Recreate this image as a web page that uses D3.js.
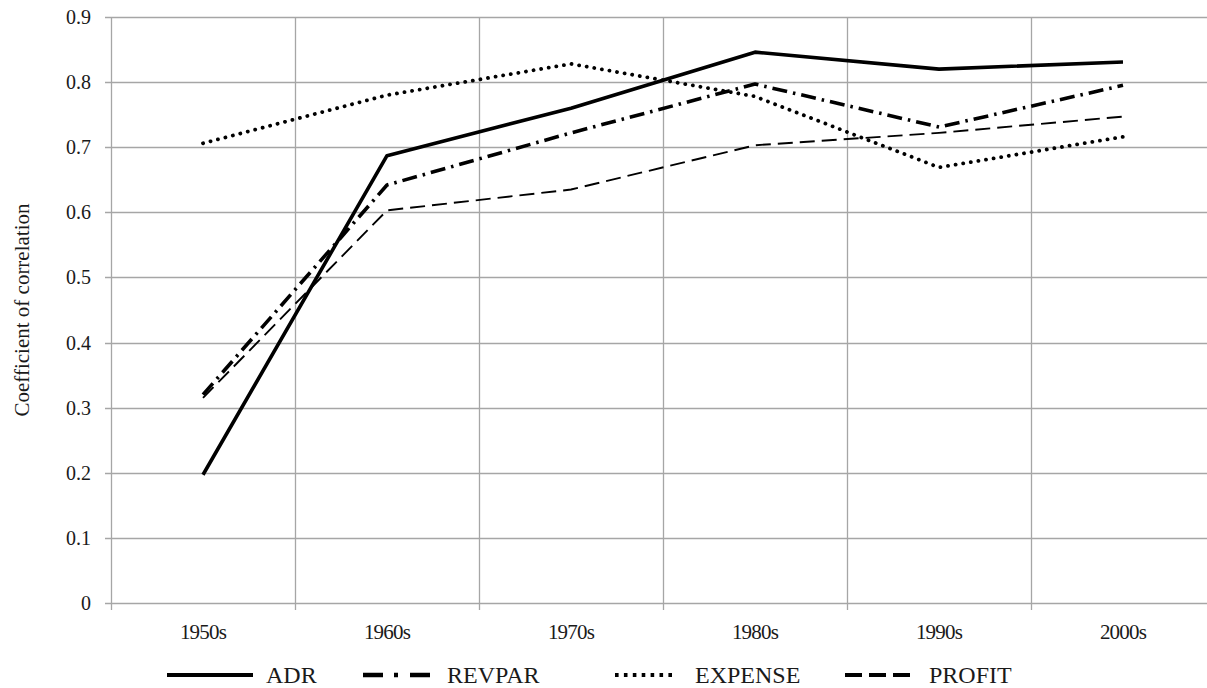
<!DOCTYPE html>
<html>
<head>
<meta charset="utf-8">
<script src="https://cdn.jsdelivr.net/npm/d3@7"></script>
<style>
  body { margin: 0; background: #fff; }
</style>
</head>
<body>
<svg id="chart" width="1207" height="688"></svg>
<script>
// decades on the x axis
var decades = ["1950s", "1960s", "1970s", "1980s", "1990s", "2000s"];

// coefficient values
var adr     = [0.197, 0.687, 0.760, 0.846, 0.820, 0.831];
var revpar  = [0.320, 0.642, 0.722, 0.797, 0.731, 0.795];
var expense = [0.706, 0.780, 0.828, 0.778, 0.669, 0.716];
var profit  = [0.315, 0.603, 0.635, 0.703, 0.722, 0.747];

var yTicks = [0, 0.1, 0.2, 0.3, 0.4, 0.5, 0.6, 0.7, 0.8, 0.9];

var seriesNames = ["ADR", "REVPAR", "EXPENSE", "PROFIT"];

// line styles for each series
var styles = {
  ADR:     {width: 3.6, dash: null,         cap: "butt"},
  REVPAR:  {width: 3.6, dash: "15,6,2.5,6", cap: "butt"},
  EXPENSE: {width: 3.8, dash: "0.1,7.6",    cap: "round"},
  PROFIT:  {width: 1.9, dash: "15,7",       cap: "butt"}
};

var serif = "'Liberation Serif', 'Times New Roman', Times, serif";

var svg = d3.select("#chart"),
    margin = {top: 17, left: 111},
    plotBottom = 603,
    bandW = 184;

var x = d3.scaleBand()
    .domain(decades)
    .range([margin.left, margin.left + bandW * decades.length]);

var y = d3.scaleLinear()
    .domain([0, 0.9])
    .range([plotBottom, margin.top]);

var gridColor = "#a6a6a6";

// horizontal gridlines
svg.append("g")
  .selectAll("line")
  .data(yTicks)
  .enter().append("line")
    .attr("x1", margin.left - 6)
    .attr("x2", 1207)
    .attr("y1", function(d) { return Math.round(y(d)) + 0.5; })
    .attr("y2", function(d) { return Math.round(y(d)) + 0.5; })
    .attr("stroke", gridColor)
    .attr("stroke-width", 1.3);

// vertical gridlines at the category boundaries, with a small tick below
var bounds = decades.map(function(d) { return x(d); });
svg.append("g")
  .selectAll("line")
  .data(bounds)
  .enter().append("line")
    .attr("x1", function(d) { return Math.round(d) + 0.5; })
    .attr("x2", function(d) { return Math.round(d) + 0.5; })
    .attr("y1", margin.top)
    .attr("y2", plotBottom + 7)
    .attr("stroke", gridColor)
    .attr("stroke-width", 1.3);

// y tick labels
svg.append("g")
  .selectAll("text")
  .data(yTicks)
  .enter().append("text")
    .attr("x", 91)
    .attr("y", function(d) { return y(d); })
    .attr("dy", "0.35em")
    .attr("text-anchor", "end")
    .style("font-family", serif)
    .style("font-size", "20px")
    .style("fill", "#1a1a1a")
    .text(function(d) { return d3.format("")(+d.toFixed(1)); });

// x tick labels
svg.append("g")
  .selectAll("text")
  .data(decades)
  .enter().append("text")
    .attr("x", function(d) { return x(d) + x.bandwidth() / 2; })
    .attr("y", 639)
    .attr("text-anchor", "middle")
    .style("font-family", serif)
    .style("font-size", "21px")
    .style("letter-spacing", "-0.8px")
    .style("fill", "#1a1a1a")
    .text(function(d) { return d; });

// y axis title
svg.append("text")
  .attr("transform", "translate(29," + 310 + ") rotate(-90)")
  .attr("text-anchor", "middle")
  .style("font-family", serif)
  .style("font-size", "21px")
  .style("fill", "#1a1a1a")
  .text("Coefficient of correlation");

// the lines
var valuesFor = {ADR: adr, REVPAR: revpar, EXPENSE: expense, PROFIT: profit};

var line = d3.line()
    .x(function(d, i) { return x(decades[i]) + x.bandwidth() / 2; })
    .y(function(d) { return y(d); });

seriesNames.forEach(function(name) {
  var s = styles[name];
  svg.append("path")
    .datum(valuesFor[name])
    .attr("d", line)
    .attr("fill", "none")
    .attr("stroke", "#000")
    .attr("stroke-width", s.width)
    .attr("stroke-dasharray", s.dash)
    .attr("stroke-linecap", s.cap)
    .attr("stroke-linejoin", "round");
});

// legend
var legendItems = [
  {name: "ADR",     x0: 167, x1: 253, tx: 266, dash: null,         w: 4,   cap: "butt"},
  {name: "REVPAR",  x0: 363, x1: 430, tx: 447, dash: "20,11,4,12", w: 4.6, cap: "butt"},
  {name: "EXPENSE", x0: 615, x1: 676, tx: 695, dash: "3.6,5.3",    w: 3.8, cap: "butt"},
  {name: "PROFIT",  x0: 845, x1: 910, tx: 929, dash: "17,7",       w: 4,   cap: "butt"}
];

var leg = svg.append("g").attr("class", "legend");
legendItems.forEach(function(d) {
  leg.append("line")
    .attr("x1", d.x0).attr("x2", d.x1)
    .attr("y1", 675).attr("y2", 675)
    .attr("stroke", "#000")
    .attr("stroke-width", d.w)
    .attr("stroke-dasharray", d.dash)
    .attr("stroke-linecap", d.cap);
  leg.append("text")
    .attr("x", d.tx)
    .attr("y", 675)
    .attr("dy", "0.35em")
    .style("font-family", serif)
    .style("font-size", "24px")
    .style("fill", "#1a1a1a")
    .text(d.name);
});
</script>
</body>
</html>
